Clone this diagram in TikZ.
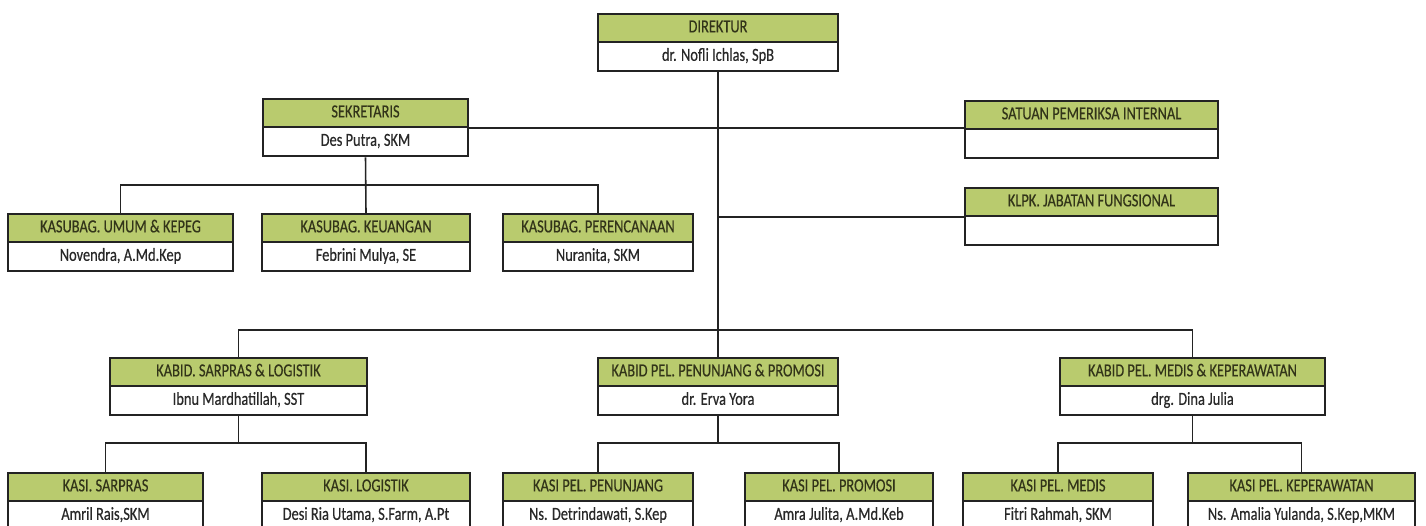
\documentclass[tikz,border=0pt]{standalone}
\usepackage{fontspec}
\setmainfont[FakeStretch=0.78,FakeBold=0.4]{Carlito}
\usepackage{tikz}
\usetikzlibrary{positioning}

\definecolor{hdgreen}{RGB}{185,203,110}
\definecolor{hdtext}{RGB}{50,52,25}
\definecolor{nametext}{RGB}{40,40,40}
\definecolor{boxline}{RGB}{35,35,35}

\begin{document}
\begin{tikzpicture}[x=0.02cm,y=0.02cm,
    title/.style={draw=boxline,line width=1.3pt,fill=hdgreen,text=hdtext,anchor=north,
        minimum height=5.6mm,inner sep=0pt,text height=7pt,text depth=2.2pt,
        font=\fontsize{10.5}{12}\selectfont},
    person/.style={draw=boxline,line width=1.3pt,fill=white,text=nametext,
        minimum height=5.8mm,inner sep=0pt,text height=7pt,text depth=2.2pt,
        font=\fontsize{10.5}{12}\selectfont},
    link/.style={draw=boxline,line width=0.9pt}]

\useasboundingbox (0,0) rectangle (1426,-526);

% boxes: name / center x / top y / width / title / person
\foreach \id/\x/\y/\w/\head/\who in {
    {dir/718/13/240/DIREKTUR/dr. Nofli Ichlas, SpB},
    {sek/365.5/98/205/SEKRETARIS/Des Putra, SKM},
    {spi/1091.5/100/253/SATUAN PEMERIKSA INTERNAL/{}},
    {klpk/1091.5/187/253/KLPK. JABATAN FUNGSIONAL/{}},
    {kub/120.5/213/225/KASUBAG. UMUM \& KEPEG/Novendra, A.Md.Kep},
    {keu/366/213/208/KASUBAG. KEUANGAN/Febrini Mulya, SE},
    {ren/598/213/190/KASUBAG. PERENCANAAN/Nuranita, SKM},
    {ksl/238.5/357/257/KABID. SARPRAS \& LOGISTIK/Ibnu Mardhatillah, SST},
    {kpp/718/357/240/KABID PEL. PENUNJANG \& PROMOSI/dr. Erva Yora},
    {kmk/1192.5/357/265/KABID PEL. MEDIS \& KEPERAWATAN/drg. Dina Julia},
    {sar/105.5/472/195/KASI. SARPRAS/Amril Rais,SKM},
    {log/366/472/208/KASI. LOGISTIK/Desi Ria Utama, S.Farm, A.Pt},
    {pen/598/472/190/KASI PEL. PENUNJANG/Ns. Detrindawati, S.Kep},
    {pro/839/472/188/KASI PEL. PROMOSI/Amra Julita, A.Md.Keb},
    {med/1058/472/190/KASI PEL. MEDIS/Fitri Rahmah, SKM},
    {kep/1301.5/472/227/KASI PEL. KEPERAWATAN/{Ns. Amalia Yulanda, S.Kep,MKM}}} {
    \node[title,minimum width=\w*0.02cm] (\id) at (\x,-\y) {\head};
    \node[person,minimum width=\w*0.02cm,below=-1.3pt of \id] (\id-n) {\who};
}

% bus levels
\coordinate (sbus) at (0,-185);
\coordinate (kbus) at (0,-330);
\coordinate (cbus) at (0,-443);

% direktur trunk and staff lines
\draw[link] (dir-n.south) -- (dir-n.south |- kbus);
\draw[link] (sek.south east) -- (sek.south east -| spi.west);
\draw[link] (klpk.south west) -- (klpk.south west -| dir-n.south);

% sekretaris
\draw[link] (sek-n.south) -- (keu.north);
\draw[link] (kub.north) -- (kub.north |- sbus) -- (ren.north |- sbus) -- (ren.north);

% kabid
\draw[link] (ksl.north) -- (ksl.north |- kbus) -- (kmk.north |- kbus) -- (kmk.north);
\draw[link] (kpp.north) -- (kpp.north |- kbus);

% kasi
\foreach \up/\a/\b in {ksl/sar/log, kpp/pen/pro, kmk/med/kep} {
    \draw[link] (\up-n.south) -- (\up-n.south |- cbus);
    \draw[link] (\a.north) -- (\a.north |- cbus) -- (\b.north |- cbus) -- (\b.north);
}
\end{tikzpicture}
\end{document}
